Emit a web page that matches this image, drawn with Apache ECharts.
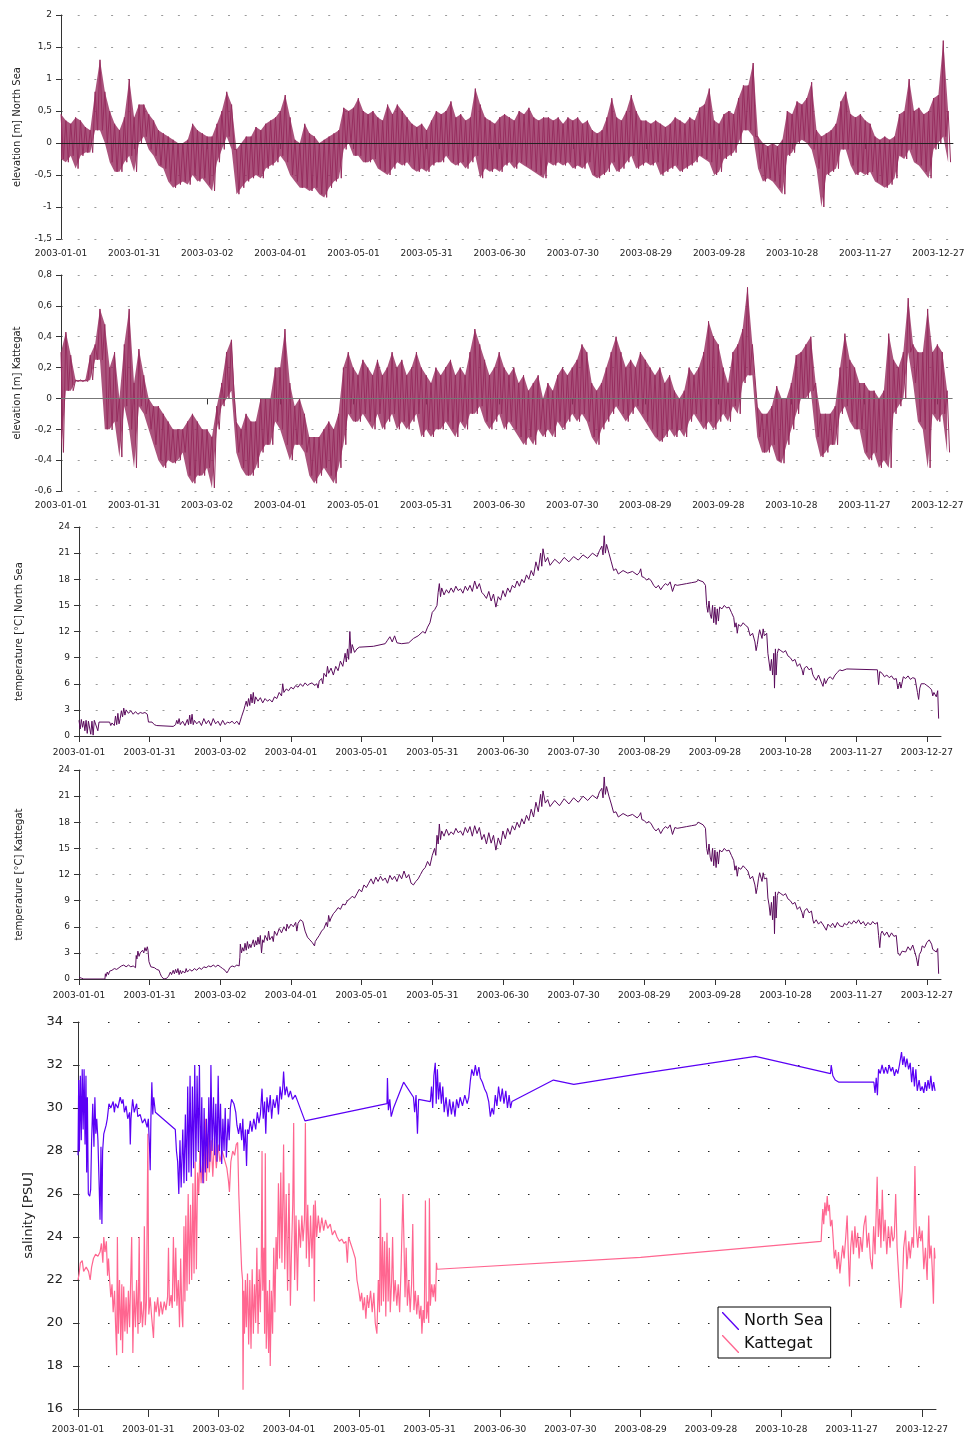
<!DOCTYPE html>
<html>
<head>
<meta charset="utf-8">
<script src="https://cdn.jsdelivr.net/npm/echarts@6/dist/echarts.min.js"></script>
<style>
  html, body { margin: 0; padding: 0; background: #fff; }
  #chart { width: 969px; height: 1437px; }
</style>
</head>
<body>
<div id="chart"></div>
<script>
// ---------------------------------------------------------------------------
// 2003 station records: sea-level elevation, water temperature and salinity
// (North Sea and Kattegat).  x values are days since 2003-01-01.
// ---------------------------------------------------------------------------

// x-axis tick positions (days) -> 2003-01-01, 2003-01-31, ... 2003-12-27
const tickDays = [0, 30, 60, 90, 120, 150, 180, 210, 240, 270, 300, 330, 360];

// Elevation: upper / lower envelope of the tidal signal, one pair every 2 days
const elevStep = 2;
const elevNorthSeaHigh = [
  0.45,0.35,0.3,0.4,0.35,0.25,0.2,0.8,1.3,0.8,
  0.5,0.3,0.2,0.4,1.0,0.4,0.6,0.6,0.45,0.35,
  0.2,0.15,0.1,0.05,0.0,0.0,0.05,0.3,0.2,0.15,
  0.1,0.1,0.3,0.5,0.8,0.6,-0.1,0.0,0.1,0.1,
  0.25,0.2,0.3,0.35,0.4,0.5,0.75,0.4,0.05,0.0,
  0.3,0.15,0.1,0.0,0.05,0.1,0.15,0.2,0.55,0.5,
  0.55,0.7,0.5,0.45,0.5,0.4,0.35,0.6,0.45,0.6,
  0.5,0.4,0.3,0.25,0.3,0.2,0.35,0.5,0.45,0.5,
  0.65,0.4,0.45,0.35,0.4,0.85,0.6,0.4,0.35,0.3,
  0.4,0.45,0.4,0.35,0.5,0.45,0.55,0.4,0.35,0.4,
  0.4,0.35,0.4,0.3,0.4,0.35,0.4,0.3,0.35,0.2,
  0.15,0.2,0.4,0.7,0.4,0.35,0.5,0.75,0.5,0.35,
  0.35,0.3,0.35,0.3,0.25,0.3,0.4,0.35,0.3,0.4,
  0.35,0.55,0.6,0.85,0.35,0.3,0.45,0.5,0.45,0.7,
  0.9,0.9,1.25,0.1,0.0,-0.05,0.0,-0.05,0.05,0.5,
  0.45,0.65,0.6,0.7,0.95,0.2,0.1,0.15,0.2,0.3,
  0.65,0.8,0.45,0.4,0.45,0.35,0.3,0.1,0.05,0.1,
  0.05,0.1,0.45,0.5,1.0,0.5,0.55,0.45,0.5,0.7,
  0.75,1.6,0.5
];
const elevNorthSeaLow = [
  -0.25,-0.3,-0.2,-0.4,-0.2,-0.15,-0.15,0.2,0.2,0.0,
  -0.3,-0.45,-0.45,-0.3,-0.2,-0.45,0.0,0.1,-0.1,-0.2,
  -0.35,-0.4,-0.6,-0.7,-0.65,-0.6,-0.65,-0.5,-0.6,-0.55,
  -0.65,-0.75,-0.3,-0.1,0.1,-0.1,-0.8,-0.7,-0.6,-0.55,
  -0.5,-0.55,-0.4,-0.35,-0.3,-0.2,-0.3,-0.5,-0.6,-0.7,
  -0.7,-0.75,-0.7,-0.8,-0.85,-0.7,-0.6,-0.55,-0.1,0.0,
  -0.2,-0.2,-0.3,-0.3,-0.25,-0.4,-0.45,-0.5,-0.4,-0.3,
  -0.35,-0.3,-0.4,-0.45,-0.4,-0.45,-0.35,-0.3,-0.3,-0.2,
  -0.3,-0.35,-0.3,-0.4,-0.3,-0.2,-0.55,-0.4,-0.45,-0.4,
  -0.45,-0.35,-0.3,-0.4,-0.3,-0.35,-0.4,-0.45,-0.5,-0.55,
  -0.3,-0.35,-0.3,-0.35,-0.3,-0.4,-0.35,-0.4,-0.3,-0.5,
  -0.55,-0.5,-0.45,-0.3,-0.45,-0.4,-0.3,-0.2,-0.4,-0.35,
  -0.3,-0.35,-0.3,-0.5,-0.45,-0.4,-0.35,-0.45,-0.4,-0.35,
  -0.3,-0.2,-0.25,-0.3,-0.5,-0.45,-0.25,-0.2,-0.15,0.0,
  0.2,0.2,0.1,-0.4,-0.6,-0.55,-0.6,-0.7,-0.8,-0.2,
  -0.15,0.0,0.05,0.0,-0.1,-0.4,-1.0,-0.5,-0.45,-0.4,
  -0.1,-0.1,-0.35,-0.5,-0.45,-0.5,-0.45,-0.6,-0.65,-0.7,
  -0.65,-0.55,-0.2,-0.25,-0.1,-0.3,-0.35,-0.45,-0.55,-0.1,
  0.0,0.1,-0.3
];
const elevKattegatHigh = [
  0.3,0.43,0.28,0.12,0.12,0.12,0.28,0.35,0.58,0.48,
  0.2,0.3,0.0,0.35,0.58,0.1,0.32,0.15,0.0,-0.05,
  -0.05,-0.1,-0.15,-0.2,-0.2,-0.2,-0.15,-0.1,-0.15,-0.2,
  -0.2,-0.25,-0.05,0.1,0.3,0.38,-0.15,-0.2,-0.1,-0.15,
  -0.15,0.0,0.0,0.0,0.2,0.2,0.45,0.1,-0.05,0.0,
  -0.1,-0.25,-0.25,-0.25,-0.2,-0.15,-0.2,-0.1,0.2,0.3,
  0.2,0.15,0.25,0.2,0.15,0.25,0.15,0.2,0.3,0.2,
  0.25,0.15,0.2,0.3,0.2,0.15,0.1,0.2,0.15,0.2,
  0.25,0.15,0.2,0.15,0.3,0.45,0.35,0.25,0.15,0.2,
  0.3,0.2,0.15,0.2,0.1,0.15,0.05,0.1,0.15,0.0,
  0.1,0.05,0.15,0.2,0.15,0.2,0.25,0.35,0.3,0.1,
  0.05,0.1,0.2,0.3,0.4,0.3,0.2,0.25,0.2,0.3,
  0.25,0.2,0.15,0.2,0.1,0.15,0.05,0.0,0.05,0.2,
  0.15,0.2,0.3,0.5,0.4,0.35,0.2,0.1,0.3,0.35,
  0.45,0.72,0.35,-0.05,-0.1,-0.1,-0.05,0.08,0.0,0.0,
  0.1,0.28,0.3,0.35,0.4,0.1,-0.1,-0.1,-0.1,-0.05,
  0.2,0.42,0.25,0.2,0.1,0.1,0.05,0.05,0.0,0.05,
  0.42,0.25,0.2,0.3,0.65,0.35,0.3,0.3,0.58,0.3,
  0.35,0.3,0.05
];
const elevKattegatLow = [
  -0.35,0.05,0.05,0.11,0.11,0.11,0.12,0.25,0.25,-0.2,
  -0.2,-0.15,-0.38,-0.05,-0.2,-0.45,-0.05,-0.1,-0.2,-0.3,
  -0.4,-0.45,-0.4,-0.42,-0.4,-0.35,-0.5,-0.55,-0.5,-0.5,
  -0.45,-0.58,-0.2,-0.05,0.0,0.05,-0.35,-0.45,-0.5,-0.5,
  -0.45,-0.35,-0.3,-0.3,-0.15,-0.2,-0.3,-0.4,-0.3,-0.3,
  -0.35,-0.5,-0.55,-0.5,-0.45,-0.5,-0.55,-0.45,-0.3,-0.1,
  -0.15,-0.15,-0.1,-0.15,-0.2,-0.1,-0.2,-0.15,-0.1,-0.2,
  -0.15,-0.2,-0.15,-0.1,-0.25,-0.2,-0.25,-0.2,-0.2,-0.15,
  -0.2,-0.25,-0.15,-0.2,-0.1,-0.1,-0.05,-0.15,-0.2,-0.15,
  -0.1,-0.2,-0.15,-0.2,-0.25,-0.3,-0.25,-0.3,-0.2,-0.25,
  -0.2,-0.25,-0.15,-0.2,-0.15,-0.1,-0.15,-0.1,-0.15,-0.25,
  -0.3,-0.2,-0.15,-0.1,-0.05,-0.1,-0.15,-0.1,-0.05,-0.1,
  -0.15,-0.2,-0.25,-0.28,-0.25,-0.2,-0.25,-0.2,-0.25,-0.15,
  -0.1,-0.15,-0.2,-0.15,-0.2,-0.15,-0.1,-0.15,-0.05,-0.1,
  0.1,0.15,0.15,-0.25,-0.35,-0.35,-0.3,-0.4,-0.42,-0.3,
  -0.2,-0.1,0.0,0.0,0.05,-0.25,-0.38,-0.35,-0.3,-0.3,
  -0.1,-0.05,-0.15,-0.2,-0.2,-0.35,-0.4,-0.35,-0.45,-0.4,
  -0.45,-0.1,-0.05,0.0,0.3,0.1,-0.15,-0.2,-0.45,-0.1,
  -0.15,-0.1,-0.35
];

// Temperature [°C], [day, value]
const tempNorthSea = [
  [0,1.8],[0.5,0.8],[1,1.9],[1.5,1.0],[2,1.7],[2.5,0.6],[3,1.8],[3.5,0.3],[4,1.7],[5,0.2],
  [5.5,1.7],[6,0.1],[6.5,1.8],[7,1.6],[8,0.6],[8.5,1.6],[9,1.7],[13,1.6],[13.5,1.2],[14,1.5],
  [15,1.2],[15.5,2.3],[16,1.3],[16.5,2.6],[17,1.4],[17.5,2.0],[18,2.9],[18.5,2.2],[19,3.2],[19.5,2.4],
  [20,3.0],[21,2.6],[22,2.9],[23,2.5],[24,2.8],[25,2.5],[26,2.7],[27,2.6],[28,2.7],[29,2.5],
  [29.5,1.6],[30,1.4],[31,1.6],[32,1.3],[33,1.2],[40,1.1],[41,1.3],[41.5,1.8],[42,1.4],[42.5,2.0],
  [43,1.3],[44,1.7],[45,1.2],[46,1.9],[46.5,1.3],[47,2.4],[47.5,1.4],[48,2.5],[48.5,1.3],[49,1.8],
  [50,1.4],[51,1.7],[52,1.2],[53,2.0],[54,1.4],[55,1.8],[56,1.2],[57,2.0],[58,1.4],[59,1.7],
  [60,1.2],[61,1.8],[62,1.3],[63,1.6],[64,1.5],[65,1.7],[66,1.4],[67,1.7],[68,1.3],[68.5,1.5],
  [69,2.2],[70,3.0],[70.5,3.5],[71,4.0],[71.5,3.4],[72,4.3],[72.5,3.5],[73,4.8],[73.5,3.8],[74,5.0],
  [74.5,3.7],[75,4.5],[76,4.0],[77,4.4],[78,3.8],[79,4.3],[80,4.0],[81,4.2],[82,3.9],[83,4.5],
  [84,4.3],[85,5.0],[86,4.6],[86.5,6.0],[87,5.0],[88,5.4],[89,5.2],[90,5.6],[91,5.4],[92,5.8],
  [93,5.6],[94,6.0],[95,5.7],[96,6.1],[97,5.8],[98,6.0],[99,6.1],[100,5.8],[101,6.0],[101.5,5.5],
  [102,6.3],[103,6.6],[103.5,6.0],[104,7.2],[105,6.8],[105.5,8.0],[106,7.2],[107,7.8],[108,7.0],[109,8.0],
  [110,7.5],[111,8.6],[112,8.0],[113,9.5],[113.5,8.5],[114,10.0],[114.5,8.8],[115,12.0],[115.5,9.5],[116,10.5],
  [117,9.6],[118,10.0],[119,10.2],[125,10.3],[130,10.6],[131,11.0],[132,11.4],[133,10.8],[134,11.5],[135,10.7],
  [137,10.6],[140,10.7],[142,11.2],[144,11.5],[146,12.0],[147,11.8],[148,12.5],[149,13.0],[150,14.2],[151,14.5],
  [152,15.0],[152.5,16.5],[153,17.5],[153.5,16.0],[154,17.0],[155,16.2],[156,16.8],[157,16.4],[158,17.0],[159,16.5],
  [160,17.2],[161,16.7],[162,16.9],[163,16.4],[164,17.2],[165,16.7],[166,17.3],[167,16.6],[168,17.8],[169,16.9],
  [170,17.5],[171,16.5],[172,16.2],[173,15.8],[174,16.6],[175,15.5],[176,16.3],[177,14.8],[178,16.0],[179,15.6],
  [180,16.7],[181,16.0],[182,17.0],[183,16.5],[184,17.3],[185,17.0],[186,17.8],[187,17.2],[188,18.0],[189,17.6],
  [190,18.5],[191,18.0],[192,19.0],[193,18.4],[194,20.0],[195,19.0],[196,21.0],[196.5,19.5],[197,21.5],[198,20.0],
  [199,20.5],[200,19.6],[202,20.3],[204,19.8],[206,20.5],[208,20.0],[210,20.6],[212,20.2],[214,20.8],[216,20.4],
  [218,21.0],[220,20.6],[221,21.3],[222,21.8],[222.5,20.8],[223,23.0],[223.5,21.0],[224,22.0],[225,21.0],[226,20.0],
  [227,19.0],[228,19.2],[229,18.6],[231,19.0],[233,18.7],[235,18.9],[237,18.5],[238,18.8],[238.5,19.2],[239,18.3],
  [240,18.2],[241,17.9],[242,18.1],[243,17.8],[244,17.3],[245,17.0],[246,17.3],[247,16.8],[248,17.2],[249,17.5],
  [250,17.3],[251,17.7],[252,16.6],[253,17.4],[254,17.3],[256,17.4],[258,17.5],[260,17.6],[262,17.7],[263,17.9],
  [265,17.7],[266,17.3],[266.5,15.0],[267,14.2],[267.5,15.5],[268,14.0],[268.5,13.5],[269,15.0],[269.5,13.0],[270,14.8],
  [270.5,12.8],[271,14.6],[271.5,13.2],[272,14.8],[273,14.6],[274,15.0],[275,14.7],[276,14.8],[277,14.2],[278,13.6],
  [278.5,12.5],[279,13.0],[279.5,11.8],[280,12.8],[281,12.6],[282,13.0],[283,12.7],[284,12.5],[285,11.5],[286,11.8],
  [287,10.8],[287.5,9.8],[288,10.5],[288.5,11.5],[289,12.2],[290,11.2],[290.5,12.3],[291,11.5],[292,11.8],[292.5,9.5],
  [293,8.5],[293.5,7.5],[294,8.8],[294.5,7.0],[295,9.5],[295.3,5.5],[295.7,10.0],[296,7.0],[296.5,9.5],[297,10.0],
  [298,9.8],[299,9.6],[300,9.8],[301,9.2],[302,9.0],[303,8.6],[304,8.8],[305,8.0],[306,8.3],[307,7.6],
  [307.5,7.0],[308,7.8],[309,8.0],[310,7.6],[311,7.8],[311.5,7.1],[312,6.8],[313,6.4],[314,7.0],[315,6.3],
  [315.9,5.7],[316.5,6.6],[317,6.0],[318,6.6],[319,6.8],[320,6.5],[321,7.0],[322,7.3],[323,7.6],[324,7.5],
  [326,7.7],[339,7.6],[339.5,5.9],[340,7.4],[341,7.2],[342,6.8],[343,7.0],[344,6.7],[345,6.9],[346,6.5],
  [347,6.6],[347.7,5.4],[348.5,6.2],[349,5.5],[350,6.8],[351,6.6],[352,6.9],[353,6.5],[354,6.7],[355,6.6],
  [356,5.0],[356.5,4.2],[357,5.5],[357.6,6.0],[359,6.0],[360,5.8],[361,5.6],[362,5.3],[362.5,4.6],[363,5.0],
  [364,4.5],[364.6,5.2],[365,2.0]
];
const tempKattegat = [
  [0,0.2],[0.5,0.35],[1,0.1],[1.5,0.25],[2,0.0],[11,0.0],[11.2,0.6],[11.5,0.3],[12,0.8],[12.5,0.5],
  [13,0.9],[14,1.0],[15,1.2],[16,1.1],[17,1.3],[18,1.5],[19,1.6],[20,1.4],[21,1.6],[22,1.4],
  [23,1.5],[24,1.3],[24.3,2.7],[24.6,2.3],[25,3.2],[25.5,2.6],[26,3.0],[26.7,2.8],[27,3.3],[27.5,3.0],
  [28,3.6],[28.5,3.2],[29,3.7],[29.3,3.3],[29.7,2.0],[30,1.8],[30.5,1.4],[31,1.6],[32,1.3],[33,1.1],
  [34,1.0],[34.5,0.6],[35,0.3],[36,0.0],[37,0.05],[37.5,0.0],[38,0.3],[38.8,0.8],[39.3,0.5],[40,1.0],
  [40.5,0.6],[41,1.1],[41.5,0.7],[42,1.2],[42.5,0.5],[43,1.0],[43.5,0.6],[44,0.9],[45,0.7],[45.5,1.2],
  [46,0.8],[47,1.1],[48,0.9],[49,1.2],[50,1.0],[51,1.3],[52,1.1],[53,1.4],[54,1.3],[55,1.5],
  [56,1.4],[57,1.6],[58,1.4],[59,1.6],[60,1.4],[61,1.2],[62,1.0],[62.8,0.7],[63.5,1.0],[64,1.3],
  [65,1.5],[66,1.4],[67,1.6],[68,1.5],[68.3,2.5],[68.5,4.0],[69,3.0],[69.5,3.6],[70,3.2],[70.5,4.1],
  [71,3.3],[71.5,4.3],[72,3.5],[72.5,4.0],[73,3.6],[74,4.5],[74.5,3.7],[75,4.4],[75.5,3.9],[76,4.8],
  [76.5,4.0],[77,5.0],[77.5,3.0],[78,4.5],[78.5,4.2],[79,5.0],[80,4.4],[80.5,5.5],[81,4.5],[82,4.9],
  [82.5,4.3],[83,5.5],[84,5.0],[85,5.8],[86,5.3],[87,6.0],[88,5.5],[88.3,6.3],[89,5.8],[90,6.3],
  [91,6.0],[92,6.5],[92.5,5.5],[93,6.4],[94,6.8],[95,6.6],[96,5.5],[97,4.8],[98,4.5],[99,4.2],
  [100,3.8],[100.3,4.3],[101,4.6],[102,5.0],[103,5.5],[104,5.8],[105,6.5],[105.5,6.0],[106,7.3],[106.5,6.6],
  [107,7.0],[108,7.5],[109,7.8],[110,8.2],[111,8.0],[112,8.6],[113,8.5],[114,9.0],[115,9.2],[116,9.5],
  [117,9.3],[118,9.8],[119,10.3],[120,10.0],[121,10.8],[122,10.5],[123,11.0],[124,11.5],[125,10.9],[126,11.7],
  [127,11.2],[128,11.8],[129,11.3],[130,11.6],[131,11.0],[132,11.9],[133,11.4],[134,11.8],[135,11.2],[136,12.0],
  [137,11.5],[138,12.4],[139,11.6],[140,12.0],[141,11.0],[142,10.8],[143,11.2],[144,11.5],[145,12.0],[146,12.5],
  [147,12.8],[148,13.5],[149,13.0],[150,14.2],[151,15.0],[151.5,14.2],[152,16.5],[152.5,15.5],[153,17.8],[153.5,16.0],
  [154,17.0],[155,16.4],[156,17.2],[157,16.5],[158,16.9],[159,16.6],[160,17.3],[161,16.8],[162,17.0],[163,16.5],
  [164,17.4],[165,16.8],[166,17.5],[167,16.4],[168,17.6],[169,16.7],[170,17.4],[171,16.0],[172,16.6],[173,15.5],
  [174,16.8],[175,15.6],[176,16.5],[177,14.8],[178,16.2],[179,15.4],[180,17.0],[181,16.1],[182,17.3],[183,16.6],
  [184,17.6],[185,17.1],[186,18.0],[187,17.4],[188,18.4],[189,17.8],[190,18.8],[191,18.2],[192,19.5],[193,18.6],
  [194,20.3],[195,19.2],[196,21.2],[196.5,19.8],[197,21.6],[198,20.2],[199,20.6],[200,19.8],[202,20.5],[204,19.9],
  [206,20.7],[208,20.1],[210,20.8],[212,20.3],[214,21.0],[216,20.5],[218,21.1],[220,20.7],[221,21.5],[222,21.9],
  [222.5,20.8],[223,23.2],[223.5,21.2],[224,22.1],[225,21.0],[226,20.1],[227,19.1],[228,19.2],[229,18.6],[231,19.0],
  [233,18.7],[235,18.9],[237,18.5],[238,18.8],[238.5,19.1],[239,18.3],[240,18.2],[241,17.9],[242,18.1],[243,17.8],
  [244,17.3],[245,17.0],[246,17.3],[247,16.7],[248,17.2],[249,17.5],[250,17.3],[251,17.7],[252,16.6],[253,17.4],
  [254,17.3],[256,17.4],[258,17.5],[260,17.6],[262,17.7],[263,18.0],[265,17.7],[266,17.3],[266.5,15.0],[267,14.3],
  [267.5,15.5],[268,14.0],[268.5,13.5],[269,15.0],[269.5,13.0],[270,14.8],[270.5,12.8],[271,14.6],[271.5,13.2],[272,14.8],
  [273,14.6],[274,15.0],[275,14.7],[276,14.8],[277,14.2],[278,13.6],[278.5,12.5],[279,13.0],[279.5,11.8],[280,12.8],
  [281,12.6],[282,13.0],[283,12.7],[284,12.4],[285,11.5],[286,11.8],[287,10.8],[287.5,9.8],[288,10.5],[288.5,11.5],
  [289,12.2],[290,11.2],[290.5,12.2],[291,11.5],[292,11.6],[292.5,9.3],[293,8.5],[293.5,7.3],[294,8.8],[294.5,6.8],
  [295,9.5],[295.3,5.2],[295.7,10.0],[296,7.0],[296.5,9.6],[297,10.0],[298,9.8],[299,9.6],[300,9.8],[301,9.2],
  [302,9.0],[303,8.6],[304,8.8],[305,8.0],[306,8.3],[307,7.6],[307.5,7.0],[308,7.8],[309,8.1],[310,7.6],
  [311,7.8],[311.6,6.8],[312,6.4],[313,6.8],[314,6.3],[315,6.6],[316,6.2],[317.3,5.6],[318,6.3],[319,6.0],
  [320,6.4],[321,5.9],[322,6.5],[323,6.1],[324.3,6.0],[325,6.4],[326,6.2],[327,6.6],[328,6.3],[329,6.7],
  [330,6.4],[331,6.8],[332,6.3],[333,6.6],[334,6.1],[335,6.5],[336,6.2],[337,6.6],[338,6.3],[339,6.5],
  [339.5,5.0],[340,3.6],[340.5,5.2],[341,5.5],[342,5.0],[343,5.4],[344,4.8],[345,5.3],[346,4.9],[347,5.0],
  [347.7,3.0],[348.5,2.7],[349.5,3.2],[350,3.4],[351,3.1],[352,3.7],[353,3.3],[354,3.9],[354.8,4.1],[355.5,2.5],
  [356.2,1.5],[356.8,2.8],[357.6,3.2],[358,3.8],[359,3.6],[360,4.2],[361,4.5],[362,4.0],[362.5,3.4],[363,3.6],
  [364,3.1],[364.6,3.5],[365,0.6]
];

// Salinity [PSU], [day, value]
const salNorthSea = [
  [0,27.8],[0.3,31.3],[0.6,28.0],[1,31.5],[1.4,28.5],[1.8,31.8],[2.2,29.0],[2.6,31.8],[3,28.3],[3.4,31.5],
  [3.7,27.0],[4,30.5],[4.4,26.0],[5,25.9],[5.4,26.2],[5.8,28.5],[6.3,30.2],[6.8,28.2],[7.2,30.5],[7.6,28.8],
  [8,29.5],[8.5,28.5],[9,26.5],[9.4,24.8],[9.8,28.2],[10.2,24.6],[10.5,28.0],[11,28.8],[12,29.2],[12.5,29.5],
  [13.2,30.2],[14,30.0],[15,30.3],[15.5,29.8],[16,30.2],[17,30.0],[18,30.5],[18.7,30.2],[19.2,30.4],[19.8,29.8],
  [20.5,30.1],[21.2,29.5],[22,29.8],[22.3,28.3],[22.6,29.5],[23.3,30.4],[24,29.8],[25,30.2],[25.5,29.6],[26.5,29.7],
  [27.5,29.3],[28.5,29.5],[29.5,29.1],[30,29.5],[30.5,28.2],[30.8,27.1],[31.1,29.5],[31.5,31.2],[31.9,29.7],[32.3,30.5],
  [33,29.8],[41.5,29.0],[42,28.0],[42.5,27.5],[43,26.0],[43.5,28.5],[44,26.3],[44.7,29.0],[45.2,26.5],[45.8,29.7],
  [46.3,26.6],[46.8,31.0],[47.3,27.0],[47.8,31.5],[48.3,26.8],[48.8,31.0],[49.3,27.2],[49.8,32.0],[50.3,27.5],[50.8,31.5],
  [51.3,28.0],[51.8,32.0],[52.3,27.0],[52.8,30.5],[53.3,26.5],[53.8,30.0],[54.3,27.0],[54.8,29.5],[55.3,27.2],[55.8,30.5],
  [56.3,27.5],[56.7,32.0],[57.2,28.0],[57.8,30.5],[58.3,27.8],[58.8,30.2],[59.3,27.5],[59.8,31.5],[60.3,28.0],[60.8,30.2],
  [61.3,27.4],[61.8,29.5],[62.3,28.0],[62.8,30.0],[63.3,27.7],[64,29.5],[64.5,28.5],[65,30.0],[65.5,30.4],[66.5,30.2],
  [67.3,29.8],[67.8,29.2],[68.5,28.8],[69.2,29.3],[69.8,28.5],[70.3,29.5],[70.8,28.0],[71.4,29.0],[71.9,27.3],[72.3,29.0],
  [72.8,28.8],[73.5,29.4],[74.2,28.9],[75,29.5],[75.8,29.0],[76.5,29.8],[77.2,29.3],[77.8,29.7],[78.5,30.9],[79,29.5],
  [79.6,30.3],[80.1,28.8],[80.6,30.5],[81.3,29.8],[82,30.6],[82.6,29.5],[83.3,30.4],[84,30.0],[84.9,30.6],[85.5,29.7],
  [86.2,31.0],[86.8,30.4],[87.3,30.9],[87.7,31.7],[88.3,30.6],[89,31.0],[89.8,30.5],[90.6,30.8],[91.5,30.4],[92.7,30.6],
  [96.8,29.4],[131.8,30.2],[132,31.4],[132.4,29.9],[133,30.4],[133.6,29.6],[134.6,30.0],[138.9,31.2],[143.1,30.5],[143.6,29.8],
  [144.2,30.6],[144.8,28.8],[145.3,30.4],[150.3,30.3],[150.8,31.0],[151.3,30.0],[151.8,31.5],[152.4,32.1],[152.8,30.2],[153.3,31.8],
  [153.8,30.4],[154.4,31.2],[155,30.2],[155.6,31.0],[156.2,29.8],[157,30.5],[157.8,29.6],[158.5,30.4],[159.3,29.7],[160,30.3],
  [160.8,29.6],[161.5,30.4],[162.3,30.0],[163,30.5],[164,30.1],[165,30.6],[166,30.2],[166.7,30.5],[167.4,31.3],[168,31.8],
  [168.8,31.5],[169.5,32.0],[170.2,31.5],[171,31.9],[171.6,31.4],[172.5,31.2],[173.4,30.9],[174.3,30.7],[175.2,30.3],[175.9,29.6],
  [176.6,30.0],[177.3,29.7],[178,30.6],[178.7,30.1],[179.4,31.0],[180.2,30.3],[181,30.9],[181.7,30.2],[182.5,30.8],[183.2,30.0],
  [183.9,30.6],[184.5,30.0],[185.1,30.3],[202.8,31.3],[211.5,31.1],[240,31.6],[289,32.4],[321,31.6],[321.3,32.0],[322,31.5],
  [323,31.3],[324.6,31.2],[339.5,31.2],[340,30.7],[340.5,31.4],[341,30.6],[341.5,31.8],[342.2,31.6],[343,32.0],[343.8,31.6],
  [344.5,31.9],[345.3,31.6],[346,32.0],[346.8,31.7],[347.5,31.9],[348.3,31.5],[349,31.8],[349.7,31.6],[350.4,32.0],[351.3,32.6],
  [351.8,32.0],[352.4,32.4],[353,31.9],[353.6,32.3],[354.3,31.8],[355,32.1],[355.6,31.2],[356.2,31.9],[356.8,31.0],[357.4,31.8],
  [358,30.8],[358.8,31.3],[359.4,30.8],[360.1,31.0],[360.8,30.7],[361.4,31.2],[362,30.8],[362.6,31.3],[363.2,30.9],[363.8,31.5],
  [364.4,30.8],[365,31.2],[365.6,30.8]
];
const salKattegat = [
  [0,22.0],[0.5,22.3],[1,22.8],[1.8,22.9],[2.4,22.4],[3.5,22.6],[4.5,22.4],[5.2,22.0],[5.8,22.6],[6.6,23.0],
  [7.5,23.2],[8.5,23.1],[9.4,23.3],[10,23.7],[10.6,22.8],[11,24.0],[11.5,23.3],[12.1,23.8],[12.6,22.2],[13,23.0],
  [13.5,22.0],[14,21.2],[14.5,21.8],[15,20.5],[15.6,21.5],[16,20.0],[16.5,18.5],[16.8,24.0],[17.2,19.5],[17.7,22.0],
  [18.2,19.2],[18.7,21.8],[19,18.6],[19.5,21.7],[20,19.6],[20.5,21.2],[21,19.5],[21.5,21.5],[22,19.8],[22.9,24.0],
  [23.4,18.6],[23.9,21.5],[24.5,19.8],[25,22.0],[25.6,19.5],[26.1,24.0],[26.5,20.0],[27,21.0],[27.5,19.8],[28,20.7],
  [28.3,24.5],[28.7,19.9],[29.2,21.0],[29.8,28.8],[30.2,20.4],[30.8,21.2],[31.4,20.3],[32.2,19.3],[32.7,21.0],[33.3,20.5],
  [34,21.2],[34.6,20.3],[35.3,21.0],[36,20.4],[36.8,21.0],[37.5,20.6],[38.2,21.2],[38.6,23.5],[39,20.8],[39.7,21.3],
  [40.2,20.7],[40.7,24.0],[41.2,21.0],[41.7,23.5],[42.2,20.8],[42.8,22.0],[43.3,19.8],[43.8,23.0],[44.3,20.5],[44.7,19.8],
  [45.2,24.5],[45.6,21.0],[46,25.0],[46.5,21.5],[47,26.0],[47.5,21.8],[48,25.5],[48.5,22.0],[49,26.5],[49.5,22.3],
  [50,27.5],[50.5,22.5],[51,27.0],[51.5,26.0],[52,28.0],[52.5,26.5],[53.2,27.5],[53.6,26.5],[54.3,29.5],[54.8,26.6],
  [55.5,28.8],[56,27.0],[56.8,28.5],[57.5,26.8],[58.2,28.6],[59,27.2],[59.8,28.3],[60.5,27.5],[61.5,28.0],[62.5,27.6],
  [63.5,27.2],[64.2,26.6],[64.6,26.1],[65.2,27.5],[66,28.0],[66.8,27.8],[67.5,28.3],[68.1,28.4],[68.6,26.0],[69.2,24.2],
  [69.8,22.5],[70.2,22.0],[70.4,16.9],[70.7,21.5],[71,19.5],[71.4,22.0],[71.8,19.8],[72.3,22.3],[72.8,19.0],[73.3,22.0],
  [73.8,18.8],[74.3,22.5],[74.8,19.5],[75.3,21.8],[75.8,20.0],[76.3,23.5],[76.8,19.5],[77.3,22.5],[77.8,20.5],[78.2,23.0],
  [78.5,28.0],[78.8,21.5],[79.3,23.5],[79.6,19.5],[79.9,27.9],[80.3,18.8],[80.8,21.5],[81.3,18.6],[81.7,22.0],[82,18.0],
  [82.5,21.5],[83,19.5],[83.5,23.5],[84,20.5],[84.5,24.0],[85,22.5],[85.5,26.5],[86,23.0],[86.5,27.0],[87,22.8],
  [87.7,28.3],[88.2,22.5],[88.8,26.0],[89.4,21.5],[90,26.5],[90.6,20.8],[91,23.0],[91.6,25.5],[92,29.3],[92.4,22.0],
  [93,25.0],[93.6,21.5],[94.2,24.8],[94.9,23.5],[95.5,25.0],[96,23.8],[96.6,24.8],[97,29.3],[97.4,23.0],[98,25.5],
  [98.6,22.6],[99.2,25.0],[99.8,23.0],[100.5,25.5],[100.8,21.0],[101.2,25.7],[101.8,24.0],[102.5,25.0],[103.2,24.2],[104,24.9],
  [104.8,24.3],[105.6,24.8],[106.5,24.4],[107.6,24.6],[108.5,24.1],[109.5,24.3],[110.5,24.0],[111.5,23.8],[112.5,23.9],[113.5,23.7],
  [114.3,23.8],[114.9,22.8],[115.4,24.0],[116.3,23.7],[117.2,23.4],[118.3,23.0],[119,22.0],[119.8,21.5],[120.4,21.0],[121,21.4],
  [121.6,20.6],[122.2,21.2],[122.8,20.2],[123.4,21.3],[124,20.7],[124.8,21.5],[125.5,20.5],[126.2,21.4],[126.8,20.0],[127.5,19.5],
  [128.1,22.0],[128.6,20.5],[129,25.8],[129.4,20.8],[129.9,24.0],[130.3,21.0],[130.8,23.8],[131.3,20.3],[131.8,24.2],[132.3,21.0],
  [132.8,23.5],[133.2,20.5],[133.8,22.0],[134.2,24.0],[134.7,21.0],[135.3,22.0],[136,20.8],[136.6,21.8],[137.2,20.5],[137.8,22.5],
  [138.6,26.0],[139,24.0],[139.5,21.2],[140,23.5],[140.5,20.8],[141.1,22.0],[141.7,20.5],[142.3,21.8],[142.8,24.6],[143.3,20.6],
  [143.9,21.5],[144.5,20.4],[145.1,21.3],[145.7,20.2],[146.3,20.8],[146.7,19.5],[147.2,20.6],[147.7,20.0],[148.2,25.7],[148.6,20.2],
  [149.2,21.0],[149.6,20.0],[149.9,25.8],[150.3,20.8],[150.9,21.8],[151.5,21.2],[152,21.8],[152.5,21.0],[152.9,22.8],[153.2,22.5],
  [240,23.05],[317,23.8],[317.3,24.5],[317.7,25.3],[318.1,24.6],[318.6,25.6],[319.1,25.0],[319.6,25.9],[320,25.2],[320.5,25.5],
  [321,24.5],[321.6,24.8],[322.2,23.8],[322.6,23.0],[323.2,23.4],[323.8,22.5],[324.4,23.3],[325,22.3],[325.6,23.0],[326.2,23.6],
  [326.8,23.0],[327.5,24.0],[328.1,25.0],[328.6,23.2],[329.1,21.7],[329.6,23.5],[330.2,24.3],[330.8,23.2],[331.4,24.5],[332,23.5],
  [332.6,24.2],[333.2,23.0],[333.8,24.0],[334.5,23.3],[335.2,24.5],[336,25.0],[336.6,23.5],[337.3,24.2],[338,23.0],[338.8,22.5],
  [339.4,24.5],[340,23.2],[340.9,26.8],[341.4,24.0],[342,25.3],[342.5,23.5],[343.1,26.2],[343.7,23.8],[344.3,24.8],[345,23.2],
  [345.7,24.5],[346.4,23.5],[347,24.5],[347.6,23.8],[348.2,24.0],[348.8,26.0],[349.4,23.5],[350.2,22.0],[351,20.7],[351.6,21.5],
  [352.2,23.5],[353,24.3],[353.6,22.5],[354.4,23.8],[355,23.0],[355.8,24.0],[356.4,23.5],[357,27.3],[357.5,24.5],[358.2,23.5],
  [358.9,24.5],[359.5,23.8],[360.1,24.3],[360.8,22.5],[361.5,23.5],[362.2,22.0],[362.9,25.0],[363.3,23.0],[363.9,23.6],[364.4,22.5],
  [364.9,20.9],[365.3,23.5],[365.6,23.0]
];

// ---------------------------------------------------------------------------
const FONT = 'DejaVu Sans';
const ELEV_COLOR = '#972d5f';
const TEMP_COLOR = '#5a0b5c';
const NS_COLOR = '#5a00f5';
const KT_COLOR = '#ff6690';
const DAY0 = Date.UTC(2003, 0, 1);

function dayLabel(d) {
  return new Date(DAY0 + Math.round(d) * 86400000).toISOString().slice(0, 10);
}
function commaNum(v) {
  const r = Math.round(v * 100) / 100;
  return String(r).replace('.', ',');
}

const grids = [
  { left: 61, top: 15,   width: 892, height: 224 },
  { left: 61, top: 275,  width: 891, height: 216 },
  { left: 79, top: 527,  width: 862, height: 209 },
  { left: 79, top: 770,  width: 862, height: 209 },
  { left: 78, top: 1022, width: 858, height: 387 }
];

function makeXAxis(i, margin, tickLen) {
  return {
    type: 'value', gridIndex: i, min: 0, max: 366,
    axisLine: { show: true, lineStyle: { color: '#333', width: 1 } },
    axisTick: { show: true, customValues: tickDays, length: tickLen, lineStyle: { color: '#333' } },
    axisLabel: { customValues: tickDays, formatter: dayLabel, fontSize: 9, fontFamily: FONT, color: '#222', margin: margin },
    splitLine: { show: false }
  };
}

function makeYAxis(i, cfg) {
  return {
    type: 'value', gridIndex: i, min: cfg.min, max: cfg.max, interval: cfg.interval,
    name: cfg.name, nameLocation: 'middle', nameGap: cfg.nameGap,
    nameTextStyle: { fontSize: cfg.nameSize, fontFamily: FONT, color: '#222' },
    axisLine: { show: true, onZero: false, lineStyle: { color: '#333', width: 1 } },
    axisTick: { show: true, length: 5, lineStyle: { color: '#333' } },
    axisLabel: { formatter: cfg.fmt || commaNum, fontSize: cfg.labelSize, fontFamily: FONT, color: '#222', margin: cfg.labelMargin },
    splitLine: { show: true, lineStyle: { type: cfg.dash, color: cfg.dotColor, width: 1 } }
  };
}

// Tidal elevation band: filled envelope (custom polygon) plus a hi/lo trace
function elevationSeries(gridIdx, hi, lo, zeroColor) {
  const band = [], trace = [];
  for (let i = 0; i < hi.length; i++) {
    const d = i * elevStep;
    band.push([d, hi[i], lo[i]]);
    trace.push([d, hi[i]]);
    trace.push([d + elevStep / 2, lo[i]]);
  }
  return [
    {
      type: 'custom', xAxisIndex: gridIdx, yAxisIndex: gridIdx, data: band, silent: true,
      encode: { x: 0, y: [1, 2] },
      renderItem: function (params, api) {
        if (params.dataIndex !== 0) return null;
        const upper = [], lower = [];
        for (let k = 0; k < band.length; k++) {
          upper.push(api.coord([band[k][0], band[k][1]]));
          lower.push(api.coord([band[k][0], band[k][2]]));
        }
        return {
          type: 'polygon',
          shape: { points: upper.concat(lower.reverse()) },
          style: { fill: ELEV_COLOR, opacity: 0.82 }
        };
      }
    },
    { type: 'line', xAxisIndex: gridIdx, yAxisIndex: gridIdx, data: trace,
      symbol: 'none', silent: true, lineStyle: { color: ELEV_COLOR, width: 1 },
      markLine: { silent: true, symbol: ['none', 'none'], label: { show: false },
        lineStyle: { color: zeroColor, type: 'solid', width: 1 }, data: [{ yAxis: 0 }] } }
  ];
}

const LEGEND_ICON = 'path://M0,0 L1,0 L17,17 L17,18 L16,18 L0,1 Z';

const option = {
  animation: false,
  backgroundColor: '#fff',
  textStyle: { fontFamily: FONT },
  grid: grids,
  xAxis: [
    makeXAxis(0, 10, 6),
    makeXAxis(1, 10, 6),
    makeXAxis(2, 12, 6),
    makeXAxis(3, 12, 6),
    makeXAxis(4, 16, 8)
  ],
  yAxis: [
    makeYAxis(0, { min: -1.5, max: 2, interval: 0.5, name: 'elevation [m] North Sea', nameGap: 39, nameSize: 10,
      labelSize: 9, labelMargin: 9, dash: [2, 14.7], dotColor: '#9a9a9a' }),
    makeYAxis(1, { min: -0.6, max: 0.8, interval: 0.2, name: 'elevation [m] Kattegat', nameGap: 39, nameSize: 10,
      labelSize: 9, labelMargin: 9, dash: [2, 14.7], dotColor: '#9a9a9a' }),
    makeYAxis(2, { min: 0, max: 24, interval: 3, name: 'temperature [°C] North Sea', nameGap: 55, nameSize: 10,
      labelSize: 9, labelMargin: 9, dash: [2, 14.7], dotColor: '#9a9a9a' }),
    makeYAxis(3, { min: 0, max: 24, interval: 3, name: 'temperature [°C] Kattegat', nameGap: 55, nameSize: 10,
      labelSize: 9, labelMargin: 9, dash: [2, 14.7], dotColor: '#9a9a9a' }),
    makeYAxis(4, { min: 16, max: 34, interval: 2, name: 'salinity [PSU]', nameGap: 43, nameSize: 13,
      labelSize: 13, labelMargin: 15, dash: [1.5, 28.5], dotColor: '#222', fmt: v => String(v) })
  ],
  legend: {
    data: [{ name: 'North Sea', icon: LEGEND_ICON }, { name: 'Kattegat', icon: LEGEND_ICON }],
    orient: 'vertical', left: 718, top: 1307,
    padding: [5, 7, 5, 4], itemGap: 5, itemWidth: 17, itemHeight: 18,
    borderColor: '#000', borderWidth: 1, backgroundColor: '#fff',
    textStyle: { fontSize: 16, fontFamily: FONT, color: '#111' }
  },
  series: [
    ...elevationSeries(0, elevNorthSeaHigh, elevNorthSeaLow, '#222'),
    ...elevationSeries(1, elevKattegatHigh, elevKattegatLow, '#777'),
    { type: 'line', xAxisIndex: 2, yAxisIndex: 2, data: tempNorthSea, symbol: 'none', silent: true,
      lineStyle: { color: TEMP_COLOR, width: 1 } },
    { type: 'line', xAxisIndex: 3, yAxisIndex: 3, data: tempKattegat, symbol: 'none', silent: true,
      lineStyle: { color: TEMP_COLOR, width: 1 } },
    { name: 'Kattegat', type: 'line', xAxisIndex: 4, yAxisIndex: 4, data: salKattegat, symbol: 'none', silent: true,
      itemStyle: { color: KT_COLOR }, lineStyle: { color: KT_COLOR, width: 1.2 } },
    { name: 'North Sea', type: 'line', xAxisIndex: 4, yAxisIndex: 4, data: salNorthSea, symbol: 'none', silent: true,
      itemStyle: { color: NS_COLOR }, lineStyle: { color: NS_COLOR, width: 1.2 } }
  ]
};

const chart = echarts.init(document.getElementById('chart'), null, { renderer: 'canvas' });
chart.setOption(option);
</script>
</body>
</html>
